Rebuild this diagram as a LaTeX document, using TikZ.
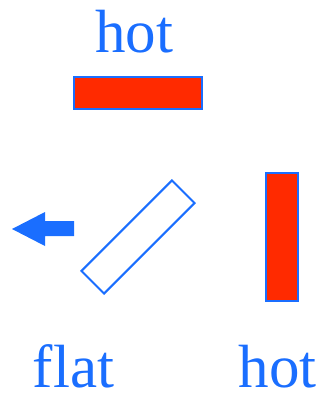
\documentclass[tikz,border=0pt]{standalone}
\usepackage{fontspec}
\setmainfont{Liberation Serif}
\usepackage{tikz}
\usetikzlibrary{positioning}
\definecolor{BarBlue}{RGB}{26,110,255}
\definecolor{HotRed}{RGB}{255,42,0}
\begin{document}
\begin{tikzpicture}[x=1pt,y=-1pt]
\useasboundingbox (0,0) rectangle (324,395);
\tikzset{bar/.style={draw=BarBlue,line width=2pt,inner sep=0pt,minimum width=128pt,minimum height=32pt},
  lbl/.style={text=BarBlue,anchor=base,inner sep=0pt,text depth=0pt,font=\fontsize{61}{70}\selectfont}}
\node[lbl] (thot) at (134,53) {hot};
\node[bar,fill=HotRed] (top) at (138,93) {};
\node[bar,fill=white,rotate=45] (tilt) at (138,237) {};
\node[bar,fill=HotRed,rotate=90] (side) at (282,237) {};
\fill[BarBlue] (12,229) -- (45,212) -- (45,221) -- (74,221) -- (74,236) -- (45,236) -- (45,246) -- cycle;
\node[lbl] (flat) at (73.5,387) {flat};
\node[lbl] (bhot) at (277.5,387) {hot};
\end{tikzpicture}
\end{document}
